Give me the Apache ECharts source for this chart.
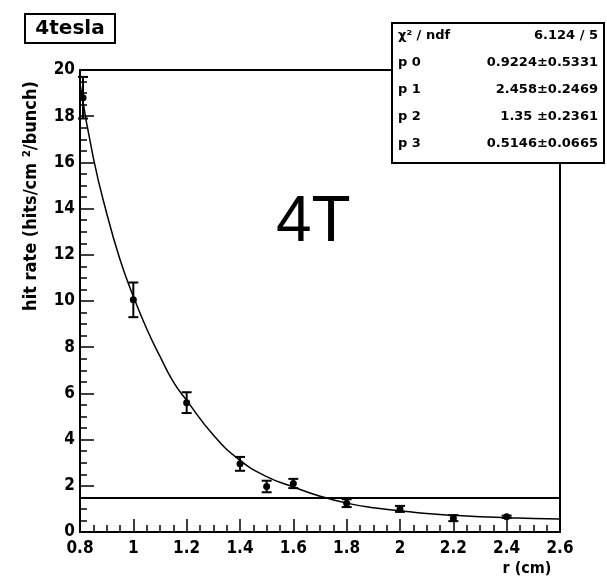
<!DOCTYPE html>
<html lang="en">
<head>
    <meta charset="UTF-8">
    <title>4tesla hit rate</title>
    <script src="https://cdn.jsdelivr.net/npm/echarts@6/dist/echarts.min.js"></script>
    <style>
        html, body { margin: 0; padding: 0; background: #ffffff; }
        #chart { width: 607px; height: 580px; }
    </style>
</head>
<body>
<div id="chart"></div>
<script>
    // measured points (r in cm, hit rate, error)
    const rValues = [0.8, 1.0, 1.2, 1.4, 1.5, 1.6, 1.8, 2.0, 2.2, 2.4];
    const hitRates = [18.8, 10.05, 5.6, 2.95, 1.97, 2.1, 1.25, 1.0, 0.6, 0.66];
    const hitErrors = [0.9, 0.75, 0.45, 0.3, 0.25, 0.2, 0.17, 0.13, 0.13, 0.05];

    // fit curve
    const fitX = [0.8, 0.85, 0.9, 0.95, 1.0, 1.05, 1.1, 1.15, 1.2, 1.3, 1.4, 1.5, 1.6, 1.7, 1.8, 1.9, 2.0, 2.1, 2.2, 2.3, 2.4, 2.5, 2.6];
    const fitY = [19.4, 16.2, 13.8, 11.8, 10.2, 8.8, 7.6, 6.5, 5.7, 4.2, 3.1, 2.4, 1.95, 1.55, 1.25, 1.05, 0.92, 0.8, 0.72, 0.66, 0.62, 0.58, 0.56];

    const levelLine = 1.5;

    const xTicks = { min: 0.8, max: 2.6, step: 0.2 };
    const yTicks = { min: 0, max: 20, step: 2 };

    const statNames = ['\u03c7\u00b2 / ndf', 'p 0', 'p 1', 'p 2', 'p 3'];
    const statValues = ['6.124 / 5', '0.9224\u00b10.5331', '2.458\u00b10.2469', '1.35 \u00b10.2361', '0.5146\u00b10.0665'];

    const boldFont = "'DejaVu Sans Condensed', 'Liberation Sans Narrow', 'Liberation Sans', sans-serif";
    const statFont = "bold 13px 'DejaVu Sans', sans-serif";

    const points = rValues.map((r, i) => [r, hitRates[i], hitErrors[i]]);
    const fitLine = fitX.map((x, i) => [x, fitY[i]]);

    const chart = echarts.init(document.getElementById('chart'));

    // stats box, drawn above the frame
    const statBox = [{
        type: 'rect', z: 20,
        shape: { x: 392, y: 23, width: 212, height: 140 },
        style: { fill: '#fff', stroke: '#000', lineWidth: 2 }
    }];
    statNames.forEach((name, i) => {
        const y = 36 + i * 27;
        statBox.push({
            type: 'text', x: 398, y: y, z: 21,
            style: { text: name, font: statFont, fill: '#000', verticalAlign: 'middle' }
        });
        statBox.push({
            type: 'text', x: 598, y: y, z: 21,
            style: { text: statValues[i], font: statFont, fill: '#000', align: 'right', verticalAlign: 'middle' }
        });
    });

    const option = {
        animation: false,
        backgroundColor: '#ffffff',
        grid: {
            left: 80, top: 70, right: 47, bottom: 48,
            show: true, borderColor: '#000', borderWidth: 2, backgroundColor: 'transparent'
        },
        xAxis: {
            type: 'value',
            min: xTicks.min, max: xTicks.max, interval: xTicks.step,
            axisLine: { show: true, lineStyle: { color: '#000', width: 2 } },
            axisTick: { show: true, inside: true, length: 13, lineStyle: { color: '#000', width: 1.5 } },
            minorTick: { show: true, splitNumber: 4, length: 7, lineStyle: { color: '#000', width: 1.5 } },
            splitLine: { show: false },
            axisLabel: {
                color: '#000', fontWeight: 'bold', fontSize: 17, fontFamily: boldFont, margin: 8,
                showMinLabel: true, showMaxLabel: true
            }
        },
        yAxis: {
            type: 'value',
            min: yTicks.min, max: yTicks.max, interval: yTicks.step,
            axisLine: { show: true, lineStyle: { color: '#000', width: 2 } },
            axisTick: { show: true, inside: true, length: 14, lineStyle: { color: '#000', width: 1.5 } },
            minorTick: { show: true, splitNumber: 4, length: 7, lineStyle: { color: '#000', width: 1.5 } },
            splitLine: { show: false },
            axisLabel: {
                color: '#000', fontWeight: 'bold', fontSize: 17, fontFamily: boldFont, margin: 5,
                showMinLabel: true, showMaxLabel: true
            }
        },
        series: [
            {
                type: 'line',
                data: fitLine,
                smooth: true,
                showSymbol: false,
                lineStyle: { color: '#000', width: 1.5 },
                markLine: {
                    silent: true,
                    symbol: 'none',
                    label: { show: false },
                    lineStyle: { color: '#000', width: 2, type: 'solid' },
                    data: [{ yAxis: levelLine }]
                },
                z: 3
            },
            {
                type: 'custom',
                data: points,
                clip: false,
                renderItem: function (params, api) {
                    const x = api.value(0);
                    const y = api.value(1);
                    const e = api.value(2);
                    const c = api.coord([x, y]);
                    const top = api.coord([x, y + e]);
                    const bot = api.coord([x, y - e]);
                    const cx = Math.max(c[0], 83);
                    const cap = 5;
                    const st = { stroke: '#000', lineWidth: 2 };
                    return {
                        type: 'group',
                        children: [
                            { type: 'line', shape: { x1: cx, y1: top[1], x2: cx, y2: bot[1] }, style: st },
                            { type: 'line', shape: { x1: cx - cap, y1: top[1], x2: cx + cap, y2: top[1] }, style: st },
                            { type: 'line', shape: { x1: cx - cap, y1: bot[1], x2: cx + cap, y2: bot[1] }, style: st },
                            { type: 'circle', shape: { cx: cx, cy: c[1], r: 3.5 }, style: { fill: '#000' } }
                        ]
                    };
                },
                z: 4
            }
        ],
        graphic: [
            {
                type: 'rect', z: 10,
                shape: { x: 25, y: 14, width: 90, height: 29 },
                style: { fill: '#fff', stroke: '#000', lineWidth: 2 }
            },
            {
                type: 'text', x: 70, y: 29, z: 11,
                style: { text: '4tesla', font: "bold 20px 'DejaVu Sans', sans-serif", fill: '#000', align: 'center', verticalAlign: 'middle' }
            },
            {
                type: 'text', x: 276, y: 191, z: 11,
                style: { text: '4T', font: "64px 'Liberation Sans', Arial, sans-serif", fill: '#000' }
            },
            {
                type: 'text', x: 31, y: 196, rotation: Math.PI / 2, z: 11,
                style: {
                    text: 'hit rate (hits/cm \u00b2/bunch)', font: 'bold 18px ' + boldFont,
                    fill: '#000', align: 'center', verticalAlign: 'middle'
                }
            },
            {
                type: 'text', x: 527, y: 569, z: 11,
                style: { text: 'r (cm)', font: 'bold 16px ' + boldFont, fill: '#000', align: 'center', verticalAlign: 'middle' }
            },
            {
                type: 'group', z: 20,
                children: statBox
            }
        ]
    };
    chart.setOption(option);
</script>
</body>
</html>
